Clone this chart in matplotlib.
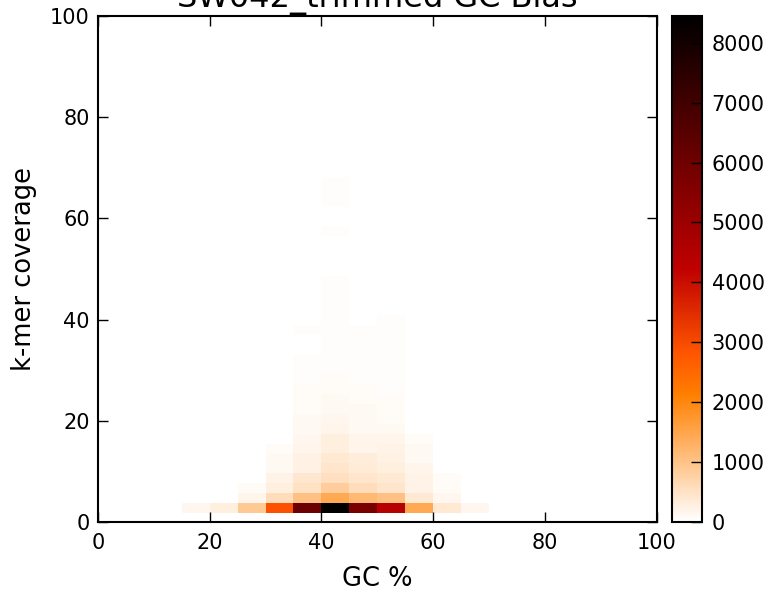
import numpy as np
import matplotlib
matplotlib.use("Agg")
import matplotlib.pyplot as plt

# GC % bin edges (5 % wide) and k-mer coverage bin edges
gc_edges = [15, 20, 25, 30, 35, 40, 45, 50, 55, 60, 65, 70]
cov_start = 1.85
cov_step = 1.95
n_cov_bins = 34

# k-mer counts per cell, one row per coverage bin (bottom to top),
# columns follow gc_edges
counts = [
    [150, 280, 910, 2900, 6100, 8447, 5760, 4390, 1440, 380, 150],
    [0, 0, 180, 580, 1040, 1440, 1180, 1040, 380, 150, 0],
    [0, 0, 80, 265, 510, 845, 580, 450, 215, 80, 0],
    [0, 0, 0, 200, 400, 550, 450, 380, 210, 80, 0],
    [0, 0, 0, 120, 250, 450, 330, 290, 180, 0, 0],
    [0, 0, 0, 110, 250, 380, 300, 250, 100, 0, 0],
    [0, 0, 0, 90, 180, 290, 180, 200, 100, 0, 0],
    [0, 0, 0, 0, 150, 280, 180, 170, 80, 0, 0],
    [0, 0, 0, 0, 130, 170, 130, 100, 0, 0, 0],
    [0, 0, 0, 0, 120, 140, 120, 90, 0, 0, 0],
    [0, 0, 0, 0, 90, 130, 110, 80, 0, 0, 0],
    [0, 0, 0, 0, 80, 110, 70, 70, 0, 0, 0],
    [0, 0, 0, 0, 70, 80, 70, 60, 0, 0, 0],
    [0, 0, 0, 0, 60, 70, 60, 55, 0, 0, 0],
    [0, 0, 0, 0, 50, 65, 50, 45, 0, 0, 0],
    [0, 0, 0, 0, 45, 60, 45, 45, 0, 0, 0],
    [0, 0, 0, 0, 0, 55, 40, 40, 0, 0, 0],
    [0, 0, 0, 0, 0, 55, 40, 40, 0, 0, 0],
    [0, 0, 0, 0, 35, 55, 35, 35, 0, 0, 0],
    [0, 0, 0, 0, 0, 55, 0, 35, 0, 0, 0],
    [0, 0, 0, 0, 0, 50, 0, 0, 0, 0, 0],
    [0, 0, 0, 0, 0, 50, 0, 0, 0, 0, 0],
    [0, 0, 0, 0, 0, 45, 0, 0, 0, 0, 0],
    [0, 0, 0, 0, 0, 45, 0, 0, 0, 0, 0],
    [0, 0, 0, 0, 0, 0, 0, 0, 0, 0, 0],
    [0, 0, 0, 0, 0, 0, 0, 0, 0, 0, 0],
    [0, 0, 0, 0, 0, 0, 0, 0, 0, 0, 0],
    [0, 0, 0, 0, 0, 30, 0, 0, 0, 0, 0],
    [0, 0, 0, 0, 0, 40, 30, 30, 0, 0, 0],
    [0, 0, 0, 0, 0, 0, 0, 0, 0, 0, 0],
    [0, 0, 0, 0, 0, 0, 0, 0, 0, 0, 0],
    [0, 0, 0, 0, 0, 35, 0, 0, 0, 0, 0],
    [0, 0, 0, 0, 0, 40, 30, 0, 0, 0, 0],
    [0, 0, 0, 0, 0, 35, 0, 0, 0, 0, 0],
]

cov_edges = cov_start + cov_step * np.arange(n_cov_bins + 1)
grid = np.array(counts)

fig = plt.figure(figsize=(7.74, 5.95), dpi=100)
ax = fig.add_axes([0.1266, 0.1227, 0.7216, 0.8504])
cax = fig.add_axes([0.8682, 0.1227, 0.0388, 0.8504])

mesh = ax.pcolormesh(gc_edges, cov_edges, grid, cmap="gist_heat_r",
                     vmin=0, vmax=grid.max())
ax.set_xlim(0, 100)
ax.set_ylim(0, 100)
ax.set_xticks(range(0, 101, 20))
ax.set_yticks(range(0, 101, 20))
ax.tick_params(direction="in", length=7, width=1, labelsize=15,
               top=True, right=True)
ax.tick_params(axis="x", pad=8)
ax.tick_params(axis="y", pad=6)
for s in ax.spines.values():
    s.set_linewidth(1.5)

ax.set_xlabel("GC %", fontsize=18.5, labelpad=9)
ax.set_ylabel("k-mer coverage", fontsize=18.5, labelpad=9)
fig.text(0.1266 + 0.7216 / 2, 1 - 7 / 595, "SW042_trimmed GC Bias",
         fontsize=23, ha="center", va="baseline")

cb = fig.colorbar(mesh, cax=cax)
cb.set_ticks(range(0, 8001, 1000))
cb.ax.tick_params(direction="in", length=8, width=1, labelsize=15, pad=7)
cb.outline.set_linewidth(1.5)

plt.savefig("out.png", dpi=100)
